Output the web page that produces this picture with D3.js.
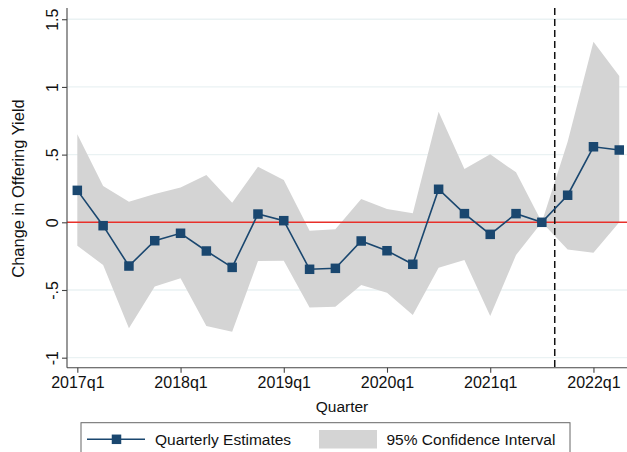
<!DOCTYPE html>
<html>
<head>
<meta charset="utf-8">
<script src="https://cdn.jsdelivr.net/npm/d3@7"></script>
<style>
  body { margin: 0; background: #fff; }
  svg { display: block; font-family: "Liberation Sans", Arial, Helvetica, sans-serif; }
</style>
</head>
<body>
<svg width="627" height="452"></svg>
<script>
// quarters 2017q1 .. 2022q2
const quarters = ['2017q1','2017q2','2017q3','2017q4','2018q1','2018q2','2018q3','2018q4',
  '2019q1','2019q2','2019q3','2019q4','2020q1','2020q2','2020q3','2020q4',
  '2021q1','2021q2','2021q3','2021q4','2022q1','2022q2'];
const estimates = [0.236, -0.025, -0.323, -0.136, -0.081, -0.212, -0.333, 0.061,
  0.012, -0.347, -0.34, -0.138, -0.21, -0.31, 0.244, 0.064,
  -0.089, 0.064, 0.0, 0.2, 0.558, 0.534];
const ciHigh = [0.65, 0.268, 0.152, 0.209, 0.258, 0.349, 0.145, 0.41,
  0.312, -0.062, -0.052, 0.172, 0.098, 0.066, 0.817, 0.394,
  0.502, 0.369, 0.0, 0.595, 1.334, 1.08];
const ciLow = [-0.173, -0.315, -0.783, -0.475, -0.414, -0.766, -0.808, -0.286,
  -0.284, -0.63, -0.623, -0.463, -0.52, -0.685, -0.335, -0.278,
  -0.692, -0.241, 0.0, -0.2, -0.225, 0.0];
const xTickQuarters = ['2017q1','2018q1','2019q1','2020q1','2021q1','2022q1'];
const yTicks = [-1, -0.5, 0, 0.5, 1, 1.5];
const yTickLabels = ['-1', '-.5', '0', '.5', '1', '1.5'];
const breakAt = 18.5; // dashed line between 2021q3 and 2021q4

const navy = '#1a476f';
const svg = d3.select('svg');

const x = d3.scaleLinear().domain([-0.4, 21.3]).range([67, 627]);
const y = d3.scaleLinear().domain([-1.074, 1.583]).range([367.7, 8]);

// grid
svg.append('g')
  .selectAll('line')
  .data(yTicks.filter(d => d !== 0))
  .enter().append('line')
  .attr('x1', x.range()[0]).attr('x2', x.range()[1])
  .attr('y1', d => y(d)).attr('y2', d => y(d))
  .attr('stroke', '#eaf2f3').attr('stroke-width', 1.3);

// confidence band
const area = d3.area()
  .x((d, i) => x(i))
  .y0((d, i) => y(ciLow[i]))
  .y1((d, i) => y(ciHigh[i]));
svg.append('path')
  .datum(quarters)
  .attr('d', area)
  .attr('fill', '#d4d4d4');

// zero line
svg.append('line')
  .attr('x1', x.range()[0]).attr('x2', x.range()[1])
  .attr('y1', y(0)).attr('y2', y(0))
  .attr('stroke', '#e8302a').attr('stroke-width', 1.6);

// dashed break line
svg.append('line')
  .attr('x1', x(breakAt)).attr('x2', x(breakAt))
  .attr('y1', y.range()[1]).attr('y2', y.range()[0])
  .attr('stroke', '#111').attr('stroke-width', 1.5)
  .attr('stroke-dasharray', '7,4');

// estimates
const line = d3.line().x((d, i) => x(i)).y(d => y(d));
svg.append('path')
  .datum(estimates)
  .attr('d', line)
  .attr('fill', 'none')
  .attr('stroke', navy)
  .attr('stroke-width', 1.6);

const ms = 9.5;
svg.append('g')
  .selectAll('rect')
  .data(estimates)
  .enter().append('rect')
  .attr('x', (d, i) => x(i) - ms / 2)
  .attr('y', d => y(d) - ms / 2)
  .attr('width', ms).attr('height', ms)
  .attr('fill', navy);

// axes
const xAxis = d3.axisBottom(x)
  .tickValues(xTickQuarters.map(q => quarters.indexOf(q)))
  .tickFormat(i => quarters[i])
  .tickSize(5).tickPadding(4);
const gx = svg.append('g')
  .attr('transform', `translate(0,${y.range()[0]})`)
  .call(xAxis);
gx.select('.domain').attr('d', `M${x.range()[0]},0H${x.range()[1]}`);

const yAxis = d3.axisLeft(y)
  .tickValues(yTicks)
  .tickFormat((d, i) => yTickLabels[i])
  .tickSize(5).tickPadding(0);
const gy = svg.append('g')
  .attr('transform', `translate(${x.range()[0]},0)`)
  .call(yAxis);
gy.select('.domain').attr('d', `M0,${y.range()[0]}V${y.range()[1]}`);
gy.selectAll('.tick text')
  .attr('transform', 'translate(-15,0) rotate(-90)')
  .attr('text-anchor', 'middle')
  .attr('x', 0).attr('dy', '0.35em');

[gx, gy].forEach(g => {
  g.selectAll('.domain, .tick line').attr('stroke', '#444').attr('stroke-width', 1.1);
  g.selectAll('.tick text').attr('fill', '#111').style('font-size', '16px');
});

// titles
svg.append('text')
  .attr('x', 342).attr('y', 412)
  .attr('text-anchor', 'middle')
  .style('font-size', '15.5px').attr('fill', '#111')
  .text('Quarter');
svg.append('text')
  .attr('transform', 'translate(24,188.5) rotate(-90)')
  .attr('text-anchor', 'middle')
  .style('font-size', '16.5px').attr('fill', '#111')
  .text('Change in Offering Yield');

// legend
const lg = svg.append('g');
lg.append('rect')
  .attr('x', 81).attr('y', 422.7).attr('width', 489).attr('height', 40)
  .attr('fill', '#fff').attr('stroke', '#666').attr('stroke-width', 1);
lg.append('line')
  .attr('x1', 87).attr('x2', 145).attr('y1', 439.3).attr('y2', 439.3)
  .attr('stroke', navy).attr('stroke-width', 1.6);
lg.append('rect')
  .attr('x', 116.5 - ms / 2).attr('y', 439.3 - ms / 2).attr('width', ms).attr('height', ms)
  .attr('fill', navy);
lg.append('text')
  .attr('x', 155).attr('y', 444.8)
  .style('font-size', '15.5px').attr('fill', '#111')
  .text('Quarterly Estimates');
lg.append('rect')
  .attr('x', 319).attr('y', 430).attr('width', 58).attr('height', 18.5)
  .attr('fill', '#d4d4d4');
lg.append('text')
  .attr('x', 386.5).attr('y', 444.8)
  .style('font-size', '15.5px').attr('fill', '#111')
  .text('95% Confidence Interval');
</script>
</body>
</html>
